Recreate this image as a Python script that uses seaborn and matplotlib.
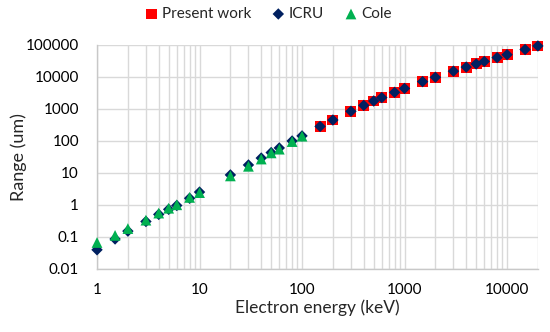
import numpy as np
import pandas as pd
import matplotlib
matplotlib.use("Agg")
import matplotlib.pyplot as plt
import seaborn as sns
from matplotlib.ticker import LogLocator, FixedLocator, NullFormatter

# ---- data ----
icru_energy = [1, 1.5, 2, 3, 4, 5, 6, 8, 10, 20, 30, 40, 50, 60, 80, 100,
               150, 200, 300, 400, 500, 600, 800, 1000, 1500, 2000, 3000,
               4000, 5000, 6000, 8000, 10000, 15000, 20000]
icru_range = [0.039, 0.085, 0.15, 0.30, 0.50, 0.72, 0.95, 1.6, 2.5, 8.6, 17.6,
              29, 43, 60, 99, 143, 283, 449, 842, 1288, 1766, 2265, 3299,
              4367, 7140, 9785, 15140, 20370, 25500, 30520, 40300, 49750,
              72190, 93200]

present_energy = [150, 200, 300, 400, 500, 600, 800, 1000, 1500, 2000, 3000,
                  4000, 5000, 6000, 8000, 10000, 15000, 20000]
present_range = [280, 450, 840, 1290, 1770, 2260, 3300, 4370, 7150, 9800,
                 15100, 20400, 25500, 30500, 40300, 49700, 72000, 93000]

cole_energy = [1, 1.5, 2, 3, 4, 5, 6, 8, 10, 20, 30, 40, 50, 60, 80, 100]
cole_range = [0.066, 0.11, 0.18, 0.33, 0.55, 0.78, 1.0, 1.7, 2.4, 8.0, 16,
              27, 42, 55, 95, 140]

series_names = ["Present work", "ICRU", "Cole"]
x_ticks = [1, 10, 100, 1000, 10000]
x_tick_labels = ["1", "10", "100", "1000", "10000"]
y_ticks = [0.01, 0.1, 1, 10, 100, 1000, 10000, 100000]
y_tick_labels = ["0.01", "0.1", "1", "10", "100", "1000", "10000", "100000"]

df_present = pd.DataFrame({"E": present_energy, "R": present_range})
df_icru = pd.DataFrame({"E": icru_energy, "R": icru_range})
df_cole = pd.DataFrame({"E": cole_energy, "R": cole_range})

sns.set_theme(style="white")
plt.rcParams["font.family"] = ["Lato", "DejaVu Sans"]

fig = plt.figure(figsize=(5.5, 3.32), dpi=100)
ax = fig.add_axes([0.1764, 0.1907, 0.8016, 0.6738])

sns.scatterplot(data=df_present, x="E", y="R", ax=ax, marker="s", s=62,
                color="#FF0000", edgecolor="none", label=series_names[0],
                zorder=3, clip_on=False)
sns.scatterplot(data=df_icru, x="E", y="R", ax=ax, marker="D", s=34,
                color="#002060", edgecolor="none", label=series_names[1],
                zorder=4, clip_on=False)
sns.scatterplot(data=df_cole, x="E", y="R", ax=ax, marker="^", s=60,
                color="#00B050", edgecolor="none", label=series_names[2],
                zorder=5, clip_on=False)

ax.set_xscale("log")
ax.set_yscale("log")
ax.set_xlim(1, 20000)
ax.set_ylim(0.01, 100000)

ax.xaxis.set_major_locator(FixedLocator(x_ticks))
ax.xaxis.set_minor_locator(LogLocator(base=10, subs=np.arange(2, 10), numticks=20))
ax.xaxis.set_minor_formatter(NullFormatter())
ax.set_xticklabels(x_tick_labels)
ax.yaxis.set_major_locator(FixedLocator(y_ticks))
ax.yaxis.set_minor_locator(FixedLocator([]))
ax.set_yticklabels(y_tick_labels)

ax.grid(True, which="major", axis="both", color="#D9D9D9", linewidth=1.0)
ax.grid(True, which="minor", axis="x", color="#D9D9D9", linewidth=1.0)
ax.set_axisbelow(True)

for side in ["top", "right"]:
    ax.spines[side].set_visible(False)
for side in ["left", "bottom"]:
    ax.spines[side].set_color("#C8C8C8")
    ax.spines[side].set_linewidth(1.0)

ax.tick_params(axis="x", which="both", length=0, labelsize=11,
               labelcolor="black", pad=10)
ax.tick_params(axis="y", which="both", length=0, labelsize=11,
               labelcolor="black", pad=13)

ax.set_xlabel("Electron energy (keV)", fontsize=12.5)
ax.set_ylabel("Range (um)", fontsize=13)
ax.yaxis.set_label_coords(-0.178, 0.5)
ax.xaxis.set_label_coords(0.5, -0.176)
ax.xaxis.label.set_va("center")
ax.yaxis.label.set_va("center")

ax.legend_.remove()
handles, labels = ax.get_legend_handles_labels()
fig.legend(handles, labels, loc="center", bbox_to_anchor=(0.488, 1 - 14 / 332),
           ncol=3, frameon=False, fontsize=11, handlelength=0.9,
           handletextpad=0.25, columnspacing=1.3, markerscale=1.0,
           borderaxespad=0)

fig.savefig("out.png", dpi=100)
